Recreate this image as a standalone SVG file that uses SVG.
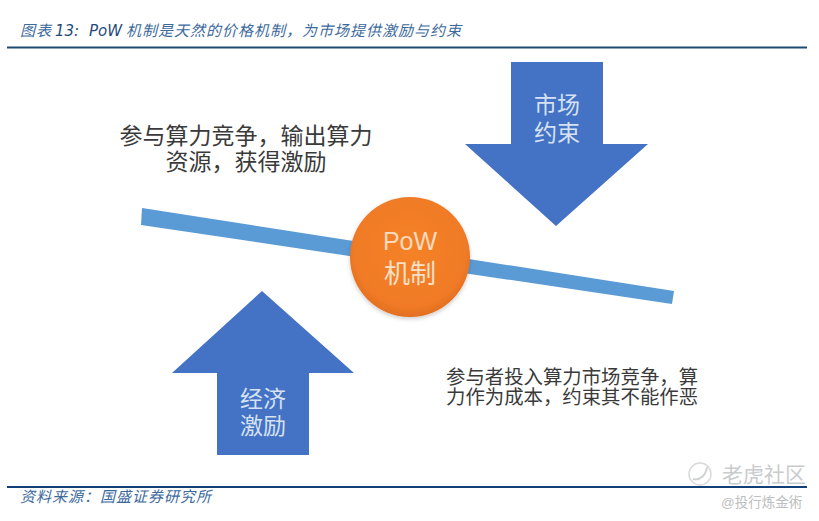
<svg xmlns="http://www.w3.org/2000/svg" width="819" height="521" viewBox="0 0 819 521">
<defs>
<radialGradient id="o" cx="50%" cy="45%" r="55%"><stop offset="0" stop-color="#f58228"/><stop offset="0.85" stop-color="#f07a26"/><stop offset="1" stop-color="#e26f1f"/></radialGradient>
<filter id="s" x="-20%" y="-20%" width="140%" height="140%"><feDropShadow dx="0" dy="2" stdDeviation="2" flood-color="#000" flood-opacity="0.2"/></filter>
</defs>
<style>
text{font-family:"Liberation Sans","Noto Sans CJK SC",sans-serif}
.cap{font-size:15px;font-style:italic;fill:#3d6a9c;letter-spacing:1px}
.lat{font-family:"DejaVu Sans","Noto Sans CJK SC",sans-serif;fill:#1f4a78;letter-spacing:0}
.lab{font-size:23px;fill:#3a3a3a;text-anchor:middle}
.lab2{font-size:19.400px;fill:#3a3a3a}
.ar{font-size:23px;fill:#d6e2f3;text-anchor:middle}
.arrow{fill:#4472c4}
.rule{fill:none;stroke:#1f4a73;stroke-width:2}
</style>
<rect width="819" height="521" fill="#fff"/>
<g id="header">
<text class="cap" y="36"><tspan x="20">图表</tspan><tspan class="lat" x="55">13:</tspan><tspan class="lat" x="89">PoW</tspan><tspan x="126">机制是天然的价格机制&#xFF0C;为市场提供激励与约束</tspan></text>
<line class="rule" x1="7" y1="47.500" x2="807" y2="47.500"/>
</g>
<g id="connectors">
<polygon id="beam" points="142,208 674,291 672,304 141,225" fill="#5b9bd5"/>
</g>
<g id="node-constraint">
<polygon class="arrow" points="511,62 603,62 603,144 648,144 556,226 465,144 511,144"/>
<text class="ar" x="557" y="113">市场</text>
<text class="ar" x="557" y="141">约束</text>
</g>
<g id="node-incentive">
<polygon class="arrow" points="262,291 354,373 309,373 309,455 217,455 217,373 172,373"/>
<text class="ar" x="263" y="407">经济</text>
<text class="ar" x="263" y="434">激励</text>
</g>
<g id="node-pow">
<circle cx="410" cy="257" r="60" fill="url(#o)" filter="url(#s)"/>
<text x="410" y="250" font-size="25" fill="#fbd9bd" text-anchor="middle">PoW</text>
<text x="410" y="283" font-size="26" fill="#fbe0c8" text-anchor="middle">机制</text>
</g>
<g id="label-top">
<text class="lab" x="246" y="144">参与算力竞争&#xFF0C;输出算力</text>
<text class="lab" x="246" y="170">资源&#xFF0C;获得激励</text>
</g>
<g id="label-bottom">
<text class="lab2" x="446" y="384">参与者投入算力市场竞争&#xFF0C;算</text>
<text class="lab2" x="446" y="404">力作为成本&#xFF0C;约束其不能作恶</text>
</g>
<g id="footer">
<line x1="7" y1="487" x2="807" y2="487" stroke="#123f75" stroke-width="2"/>
<text class="cap" x="20" y="502">资料来源&#xFF1A;国盛证券研究所</text>
</g>
<g id="watermark" fill="#c9cbcd">
<circle cx="700" cy="474" r="11" fill="none" stroke="#d8dadc" stroke-width="1.500"/>
<path d="M693,479 C700,481 706,475 707,467" fill="none" stroke="#d0d2d4" stroke-width="2"/>
<text x="722" y="482" font-size="21">老虎社区</text>
<text x="721" y="507" font-size="13.500" fill="#bcbec0">@投行炼金術</text>
</g>
</svg>
